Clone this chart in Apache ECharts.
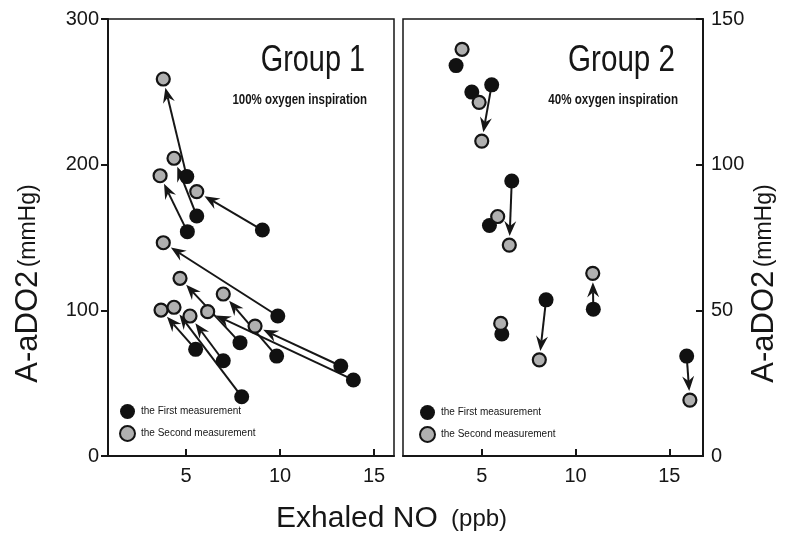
<!DOCTYPE html>
<html>
<head>
<meta charset="utf-8">
<script src="https://cdn.jsdelivr.net/npm/echarts@6/dist/echarts.min.js"></script>
<style>html,body{margin:0;padding:0;background:#fff}#c{width:792px;height:538px}</style>
</head>
<body>
<div id="c"></div>
<script>
// ---- Data ----
// Group 1 (100% oxygen), paired by index: first -> second measurement
const g1FirstX  = [5.04, 5.57, 5.07, 9.06, 9.88, 7.87, 9.82, 13.23, 13.9, 6.98, 5.51, 7.96];
const g1FirstY  = [191.8, 164.8, 154, 155.1, 96.1, 77.8, 68.6, 61.8, 52.2, 65.4, 73.2, 40.7];
const g1SecondX = [3.79, 4.36, 3.62, 5.57, 3.79, 4.68, 6.98, 8.67, 6.15, 5.21, 3.67, 4.36];
const g1SecondY = [258.8, 204.4, 192.4, 181.5, 146.4, 122, 111.2, 89.2, 99.1, 96.1, 100.2, 102.1];
const g1Arrow   = [1, 1, 1, 1, 1, 1, 1, 1, 1, 1, 1, 1];

// Group 2 (40% oxygen)
const g2FirstX  = [3.63, 4.47, 5.53, 6.6, 5.41, 8.43, 10.95, 6.07, 15.93];
const g2FirstY  = [134, 124.9, 127.4, 94.4, 79.1, 53.6, 50.4, 41.9, 34.3];
const g2SecondX = [3.95, 4.86, 5.0, 6.47, 5.85, 8.07, 10.92, 6.01, 16.1];
const g2SecondY = [139.6, 121.4, 108.1, 72.4, 82.2, 33.0, 62.7, 45.5, 19.2];
const g2Arrow   = [0, 0, 1, 1, 0, 1, 1, 0, 1];

const xTicks = [5, 10, 15];

const firstName = 'the First measurement';
const secondName = 'the Second measurement';
const panelTitles = ['Group 1', 'Group 2'];
const panelSubtitles = ['100% oxygen inspiration', '40% oxygen inspiration'];

// ---- Build ----
const zip = (a, b) => a.map((v, i) => [v, b[i]]);
const pairs = (fx, fy, sx, sy, fl) => fx.map((v, i) => [v, fy[i], sx[i], sy[i]]).filter((d, i) => fl[i]);

const SANS = "'Liberation Sans',Arial,Helvetica,sans-serif";
const INK = '#161616';

function arrowRender(params, api) {
  const p1 = api.coord([api.value(0), api.value(1)]);
  const p2 = api.coord([api.value(2), api.value(3)]);
  const dx = p2[0] - p1[0], dy = p2[1] - p1[1];
  const L = Math.hypot(dx, dy) || 1;
  const ux = dx / L, uy = dy / L, nx = -uy, ny = ux;
  const gap = 9, hl = 15, hw = 6, notch = 10;
  const tip = [p2[0] - ux * gap, p2[1] - uy * gap];
  const base = [tip[0] - ux * hl, tip[1] - uy * hl];
  const np = [tip[0] - ux * notch, tip[1] - uy * notch];
  return {
    type: 'group',
    children: [
      { type: 'line', shape: { x1: p1[0], y1: p1[1], x2: np[0], y2: np[1] },
        style: { stroke: INK, lineWidth: 2 } },
      { type: 'polygon', shape: { points: [tip, [base[0] + nx * hw, base[1] + ny * hw], np, [base[0] - nx * hw, base[1] - ny * hw]] },
        style: { fill: INK } }
    ]
  };
}

function xAxisCfg(gi, min, max) {
  return {
    gridIndex: gi, type: 'value', min: min, max: max,
    axisLine: { show: true, onZero: false, lineStyle: { color: INK, width: 2 } },
    axisTick: { show: true, inside: true, length: 7, customValues: xTicks, lineStyle: { color: INK, width: 2 } },
    axisLabel: { customValues: xTicks, fontSize: 20, color: INK, margin: 10, fontFamily: SANS },
    splitLine: { show: false }
  };
}

const nameRich = {
  a: { fontSize: 31, fontFamily: SANS, color: INK },
  b: { fontSize: 23, fontFamily: SANS, color: INK }
};

function yAxisCfg(gi, max, interval, right) {
  return {
    gridIndex: gi, type: 'value', min: 0, max: max, interval: interval,
    position: right ? 'right' : 'left',
    axisLine: { show: true, onZero: false, lineStyle: { color: INK, width: 2 } },
    axisTick: { show: true, inside: !!right, length: 7, lineStyle: { color: INK, width: 2 } },
    axisLabel: { fontSize: 20, color: INK, margin: right ? 8 : 9, fontFamily: SANS },
    splitLine: { show: false },
    name: '{a|A-aDO2} {b|(mmHg)}',
    nameLocation: 'middle', nameRotate: 90,
    nameGap: right ? 46 : 64,
    nameTextStyle: { rich: nameRich, padding: [0, 92, 0, 0] }
  };
}

const blackStyle = { color: '#111', borderColor: '#111', borderWidth: 0, opacity: 1 };
const greyStyle = { color: '#b0b0b0', borderColor: '#141414', borderWidth: 2.2, opacity: 1 };

function titleText(str, x, y, size, weight, sx) {
  return { type: 'text', x: x, y: y, scaleX: sx, silent: true,
    style: { text: str, align: 'right', verticalAlign: 'middle', fontSize: size, fontWeight: weight,
      fontFamily: SANS, fill: INK } };
}

const option = {
  animation: false,
  backgroundColor: '#fff',
  textStyle: { fontFamily: SANS },
  legend: [
    { data: [firstName, secondName], orient: 'vertical', left: 119, top: 404, itemWidth: 15, itemHeight: 15, itemGap: 6,
      icon: 'circle', padding: 0, selectedMode: false,
      textStyle: { fontFamily: SANS, fontSize: 10, color: INK, padding: [0, 0, 0, 1] } },
    { data: [firstName, secondName], orient: 'vertical', left: 419, top: 405, itemWidth: 15, itemHeight: 15, itemGap: 6,
      icon: 'circle', padding: 0, selectedMode: false,
      textStyle: { fontFamily: SANS, fontSize: 10, color: INK, padding: [0, 0, 0, 1] } }
  ],
  grid: [
    { left: 108, top: 19, width: 286, height: 437, show: true, borderColor: INK, borderWidth: 1.5, backgroundColor: 'transparent' },
    { left: 403, top: 19, width: 300, height: 437, show: true, borderColor: INK, borderWidth: 1.5, backgroundColor: 'transparent' }
  ],
  xAxis: [xAxisCfg(0, 0.85, 16.06), xAxisCfg(1, 0.8, 16.8)],
  yAxis: [yAxisCfg(0, 300, 100, false), yAxisCfg(1, 150, 50, true)],
  graphic: [
    titleText(panelTitles[0], 365, 61, 37, 'normal', 0.78),
    titleText(panelSubtitles[0], 367, 100, 14, 'bold', 0.82),
    titleText(panelTitles[1], 675, 61, 37, 'normal', 0.8),
    titleText(panelSubtitles[1], 678, 100, 14, 'bold', 0.83),
    { type: 'text', left: 276, top: 504, silent: true,
      style: { text: '{a|Exhaled NO}    {b|(ppb)}', rich: {
        a: { fontSize: 30, fontFamily: SANS, fill: INK },
        b: { fontSize: 24, fontFamily: SANS, fill: INK } } } }
  ],
  series: [
    { type: 'custom', name: 'arrows1', xAxisIndex: 0, yAxisIndex: 0, z: 1, silent: true,
      renderItem: arrowRender, encode: { x: [0, 2], y: [1, 3] },
      data: pairs(g1FirstX, g1FirstY, g1SecondX, g1SecondY, g1Arrow) },
    { type: 'custom', name: 'arrows2', xAxisIndex: 1, yAxisIndex: 1, z: 1, silent: true,
      renderItem: arrowRender, encode: { x: [0, 2], y: [1, 3] },
      data: pairs(g2FirstX, g2FirstY, g2SecondX, g2SecondY, g2Arrow) },
    { type: 'scatter', name: firstName, xAxisIndex: 0, yAxisIndex: 0, z: 3, symbolSize: 15,
      itemStyle: blackStyle, data: zip(g1FirstX, g1FirstY) },
    { type: 'scatter', name: secondName, xAxisIndex: 0, yAxisIndex: 0, z: 4, symbolSize: 13,
      itemStyle: greyStyle, data: zip(g1SecondX, g1SecondY) },
    { type: 'scatter', name: firstName, xAxisIndex: 1, yAxisIndex: 1, z: 3, symbolSize: 15,
      itemStyle: blackStyle, data: zip(g2FirstX, g2FirstY) },
    { type: 'scatter', name: secondName, xAxisIndex: 1, yAxisIndex: 1, z: 4, symbolSize: 13,
      itemStyle: greyStyle, data: zip(g2SecondX, g2SecondY) }
  ]
};

const chart = echarts.init(document.getElementById('c'), null, { renderer: 'canvas' });
chart.setOption(option);
</script>
</body>
</html>
